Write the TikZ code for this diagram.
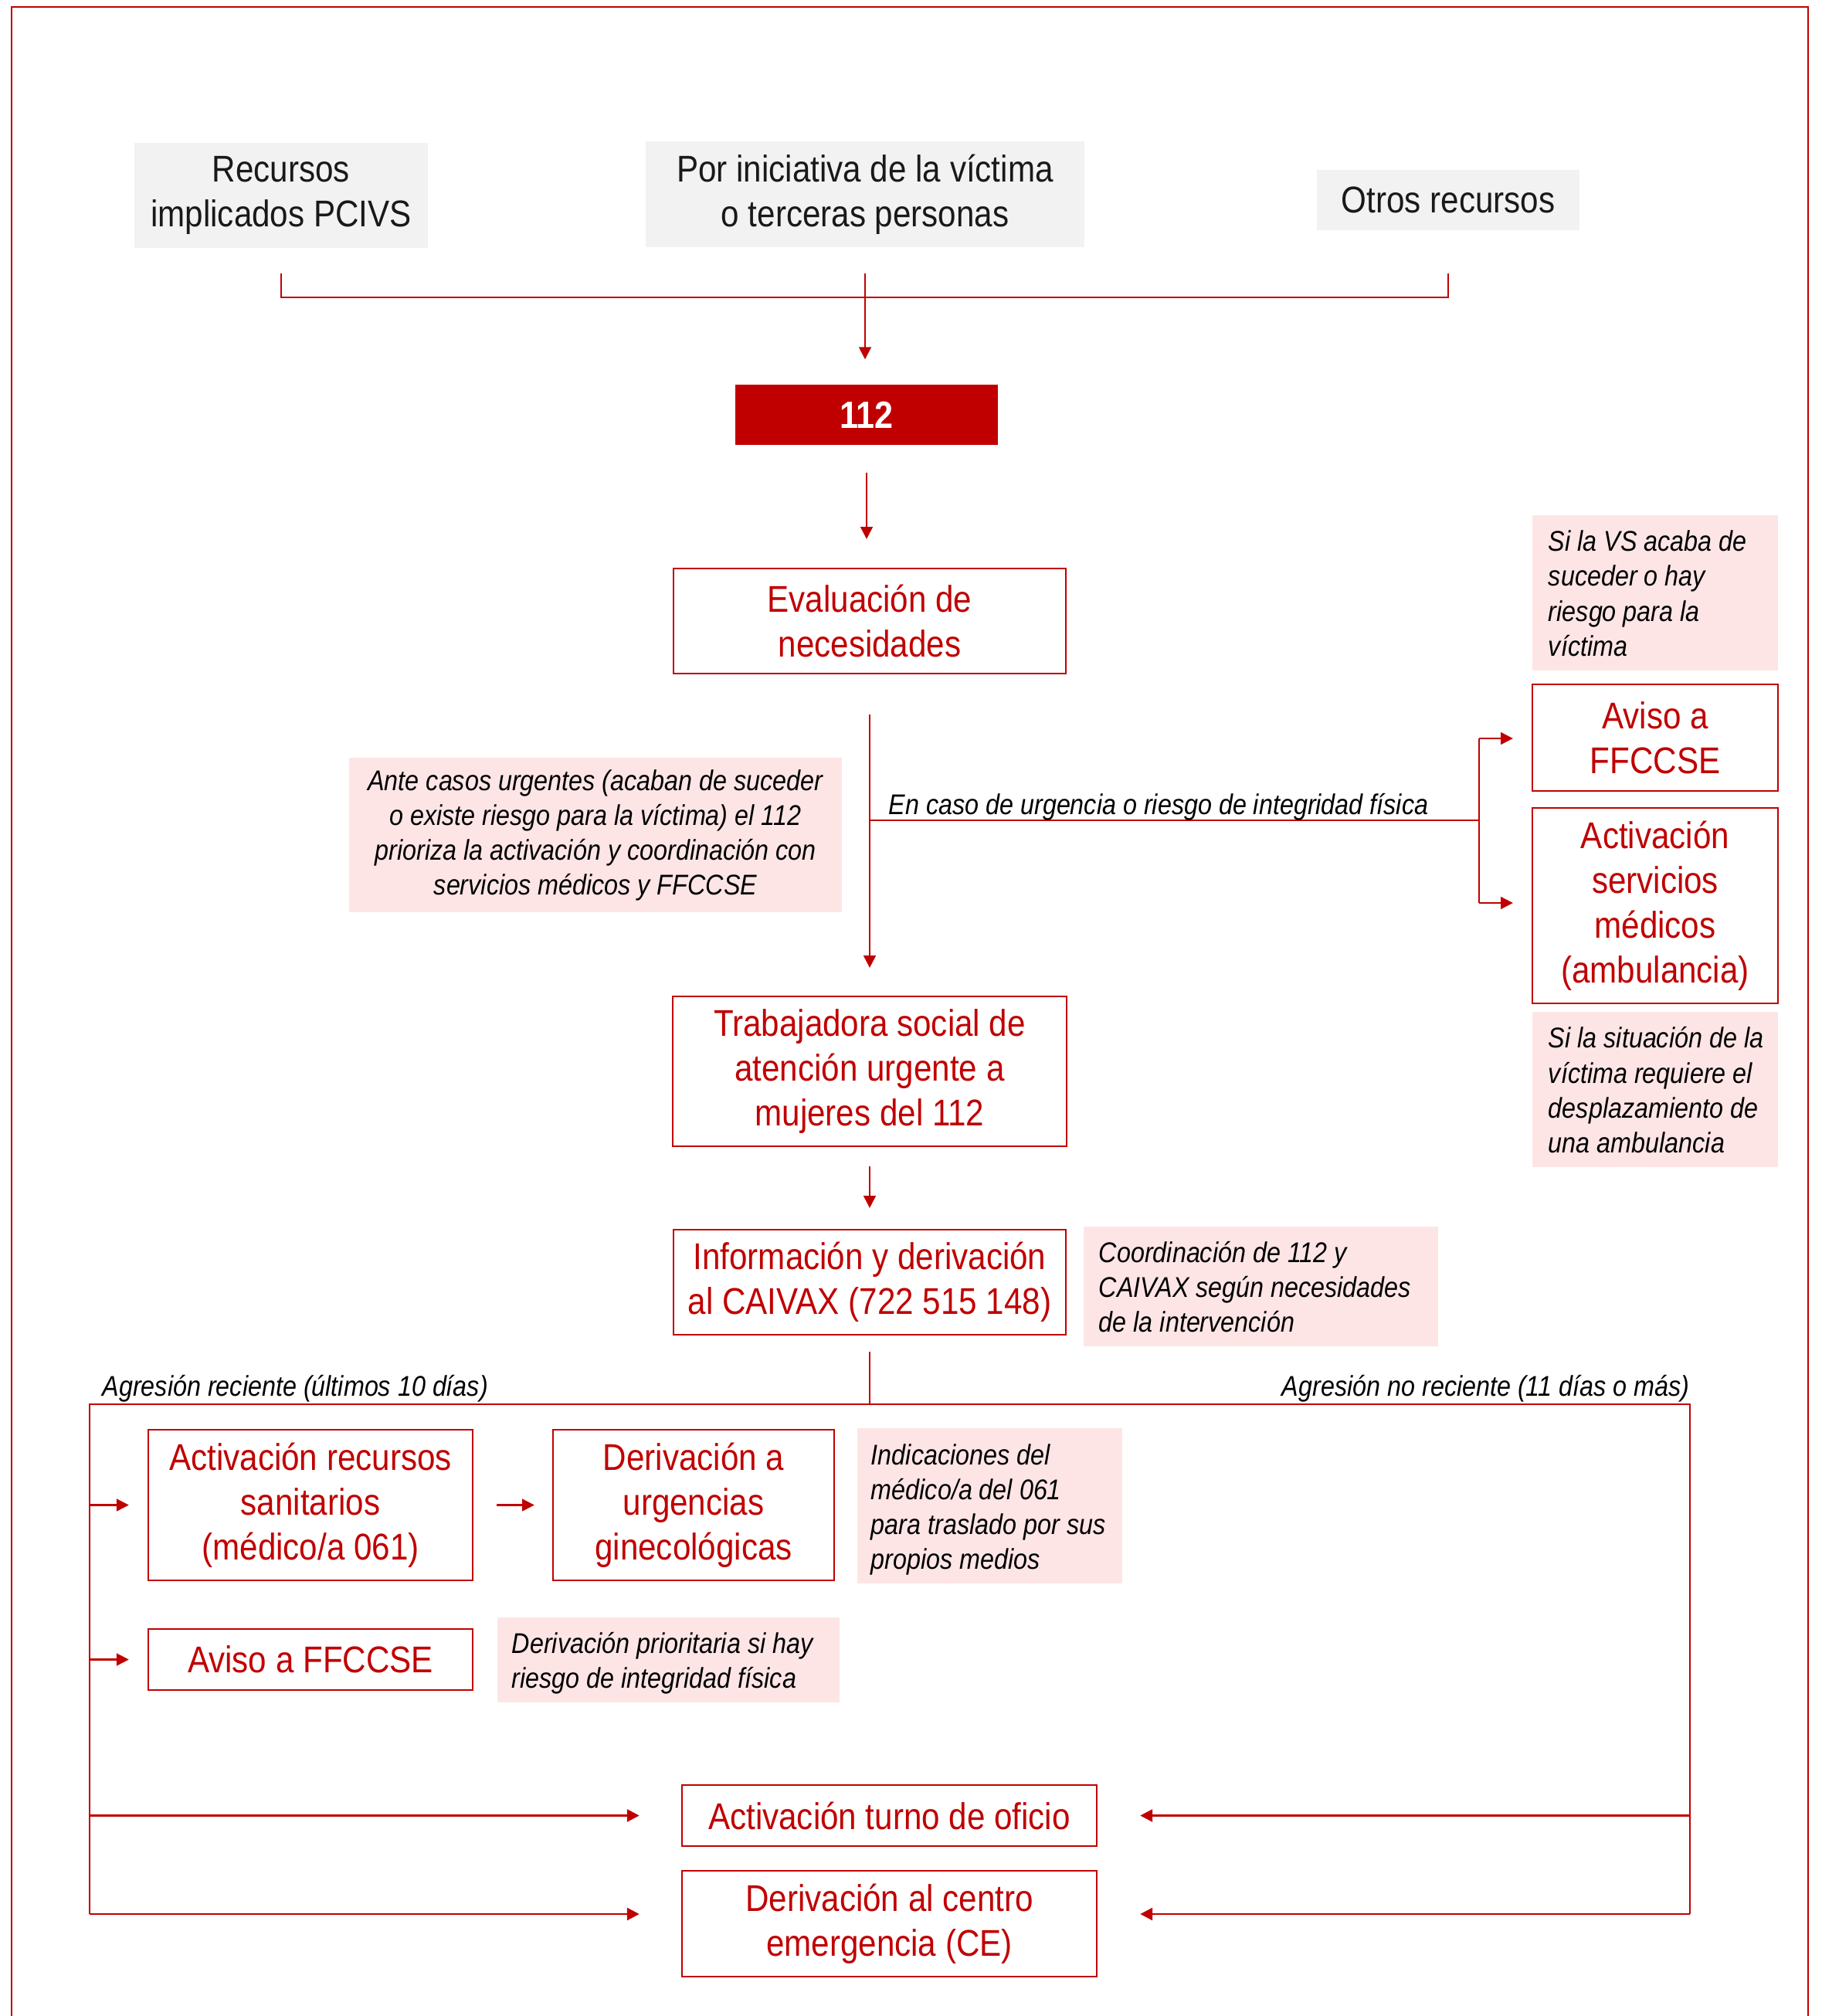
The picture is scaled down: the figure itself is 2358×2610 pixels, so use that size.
\documentclass[tikz,border=0pt]{standalone}
\usepackage{fontspec}
\setmainfont{Liberation Sans}[FakeStretch=0.875]
\usetikzlibrary{arrows.meta,calc}
\definecolor{myred}{HTML}{C00000}
\definecolor{mypink}{HTML}{FDE5E6}
\definecolor{mygray}{HTML}{F2F2F2}
\newcommand{\mainsz}{\fontsize{13.7pt}{16.5pt}\selectfont}
\newcommand{\notesz}{\fontsize{10.5pt}{12.8pt}\selectfont\itshape}
\newcommand{\lnotetxt}[3]{\makebox[#1][l]{\hspace*{#2}\raisebox{-0.05cm}[\height][\depth]{\begin{tabular}{@{}l@{}}#3\end{tabular}}}}
\begin{document}
\begin{tikzpicture}[x=0.01cm,y=-0.01cm,
  redbox/.style={draw=myred, line width=0.6pt, text=myred, align=flush center, font=\mainsz, inner sep=0pt},
  graybox/.style={fill=mygray, text=black!90, align=flush center, font=\mainsz, inner sep=0pt},
  notebox/.style={fill=mypink, text=black, font=\notesz, inner ysep=0pt},
  lnote/.style={notebox, inner xsep=0pt, minimum width=#1},
  conn/.style={draw=myred, line width=0.6pt},
  thinconn/.style={draw=myred, line width=0.4pt},
  arr/.style={conn, -{Triangle[length=4.5pt,width=4.5pt]}},
  lbl/.style={font=\notesz, text=black, inner sep=0pt}
]
\useasboundingbox (0,0) rectangle (2358,2610);
% outer frame
\draw[myred, line width=0.6pt] (15,2620) -- (15,9) -- (2341,9) -- (2341,2620);

% top boxes
\node[graybox, minimum width=3.79cm, minimum height=1.36cm] (g1) at (364,253) {Recursos\\implicados PCIVS};
\node[graybox, minimum width=5.68cm, minimum height=1.37cm] (g2) at (1120,251.5) {Por iniciativa de la víctima\\o terceras personas};
\node[graybox, minimum width=3.39cm, minimum height=0.78cm] (g3) at (1875,259) {Otros recursos};

\node[fill=myred, text=white, font=\fontsize{14pt}{16pt}\selectfont\bfseries, minimum width=3.39cm, minimum height=0.78cm, inner sep=0pt] (n112) at (1122,537) {112};

\node[redbox, minimum width=5.08cm, minimum height=1.36cm] (eval) at (1126,804) {Evaluación de\\necesidades};
\node[redbox, minimum width=5.09cm, minimum height=1.94cm] (trab) at (1126,1387) {Trabajadora social de\\atención urgente a\\mujeres del 112};
\node[redbox, minimum width=5.08cm, minimum height=1.36cm] (info) at (1126,1660) {Información y derivación\\al CAIVAX (722 515 148)};

\node[notebox, align=flush center, minimum width=6.38cm, minimum height=2.00cm] (urgnote) at (771,1081) {Ante casos urgentes (acaban de suceder\\o existe riesgo para la víctima) el 112\\prioriza la activación y coordinación con\\servicios médicos y FFCCSE};

\node[lnote=3.18cm, minimum height=2.01cm] (vsnote) at (2143,767.5) {\lnotetxt{3.18cm}{0.21cm}{Si la VS acaba de\\suceder o hay\\riesgo para la\\víctima}};
\node[redbox, minimum width=3.18cm, minimum height=1.38cm] (aviso1) at (2143,955) {Aviso a\\FFCCSE};
\node[redbox, minimum width=3.18cm, minimum height=2.53cm] (activ1) at (2143,1172.5) {Activación\\servicios\\médicos\\(ambulancia)};
\node[lnote=3.18cm, minimum height=2.01cm] (ambnote) at (2143,1410.5) {\lnotetxt{3.18cm}{0.21cm}{Si la situación de la\\víctima requiere el\\desplazamiento de\\una ambulancia}};

\node[lnote=4.59cm, minimum height=1.55cm] (coord) at (1632.5,1665.5) {\lnotetxt{4.59cm}{0.20cm}{Coordinación de 112 y\\CAIVAX según necesidades\\de la intervención}};

\node[redbox, minimum width=4.20cm, minimum height=1.95cm] (actrec) at (402,1948.5) {Activación recursos\\sanitarios\\(médico/a 061)};
\node[redbox, minimum width=3.64cm, minimum height=1.95cm] (derurg) at (898,1948.5) {Derivación a\\urgencias\\ginecológicas};
\node[lnote=3.43cm, minimum height=2.01cm] (indic) at (1281.5,1949.5) {\lnotetxt{3.43cm}{0.18cm}{Indicaciones del\\médico/a del 061\\para traslado por sus\\propios medios}};

\node[redbox, minimum width=4.20cm, minimum height=0.79cm] (aviso2) at (402,2148.5) {Aviso a FFCCSE};
\node[lnote=4.43cm, minimum height=1.10cm] (dernote) at (865.5,2149) {\lnotetxt{4.43cm}{0.19cm}{Derivación prioritaria si hay\\riesgo de integridad física}};

\node[redbox, minimum width=5.37cm, minimum height=0.79cm] (turno) at (1151.5,2350.5) {Activación turno de oficio};
\node[redbox, minimum width=5.37cm, minimum height=1.37cm] (ce) at (1151.5,2490.5) {Derivación al centro\\emergencia (CE)};

% top connectors
\coordinate (t1) at (364,354);
\coordinate (t2) at (1120,354);
\coordinate (t3) at (1875,354);
\coordinate (jtop) at (1120,385);
\draw[conn] (t1) -- (t1 |- jtop) -- (t3 |- jtop) -- (t3);
\draw[thinconn] (t2) -- (jtop);
\draw[arr, shorten >=0.32cm] (jtop) -- (jtop |- n112.north);

\draw[arr, shorten <=0.35cm, shorten >=0.37cm] (n112.south) -- (n112.south |- eval.north);
\draw[arr, shorten <=0.52cm, shorten >=0.36cm] (eval.south) -- (eval.south |- trab.north);

% urgency branch
\coordinate (jb) at (1126,1062);
\coordinate (jr) at (1915,1062);
\coordinate (jr1) at (1915,956);
\coordinate (jr2) at (1915,1169);
\draw[thinconn] (jb) -- (jr);
\draw[thinconn] (jr1) -- (jr2);
\draw[arr, shorten >=0.24cm] (jr1) -- (jr1 -| aviso1.west);
\draw[arr, shorten >=0.24cm] (jr2) -- (jr2 -| activ1.west);
\node[lbl, anchor=base west] (urglbl) at (1150,1054) {En caso de urgencia o riesgo de integridad física};

\draw[arr, shorten <=0.25cm, shorten >=0.27cm] (trab.south) -- (trab.south |- info.north);

% bottom split
\coordinate (jinfo) at (1126,1818);
\coordinate (ll) at (116,1818);
\coordinate (lr) at (2188,1818);
\coordinate (llb) at (116,2478);
\coordinate (lrb) at (2188,2478);
\draw[conn, shorten <=0.21cm] (info.south) -- (jinfo);
\draw[thinconn] (llb) -- (ll) -- (lr) -- (lrb);
\node[lbl, anchor=base west] (reclbl) at (132,1807) {Agresión reciente (últimos 10 días)};
\node[lbl, anchor=base east] (noreclbl) at (2188,1807) {Agresión no reciente (11 días o más)};

\draw[arr, shorten >=0.24cm] (ll |- actrec.west) -- (actrec.west);
\draw[arr, shorten <=0.30cm, shorten >=0.23cm] (actrec.east) -- (derurg.west);
\draw[arr, shorten >=0.24cm] (ll |- aviso2.west) -- (aviso2.west);
\draw[arr, line width=0.8pt, shorten >=0.54cm] (ll |- turno.west) -- (turno.west);
\draw[arr, line width=0.8pt, shorten >=0.55cm] (lr |- turno.east) -- (turno.east);
\draw[arr, line width=0.8pt, shorten >=0.54cm] (llb) -- (llb -| ce.west);
\draw[arr, line width=0.8pt, shorten >=0.55cm] (lrb) -- (lrb -| ce.east);
\end{tikzpicture}
\end{document}
